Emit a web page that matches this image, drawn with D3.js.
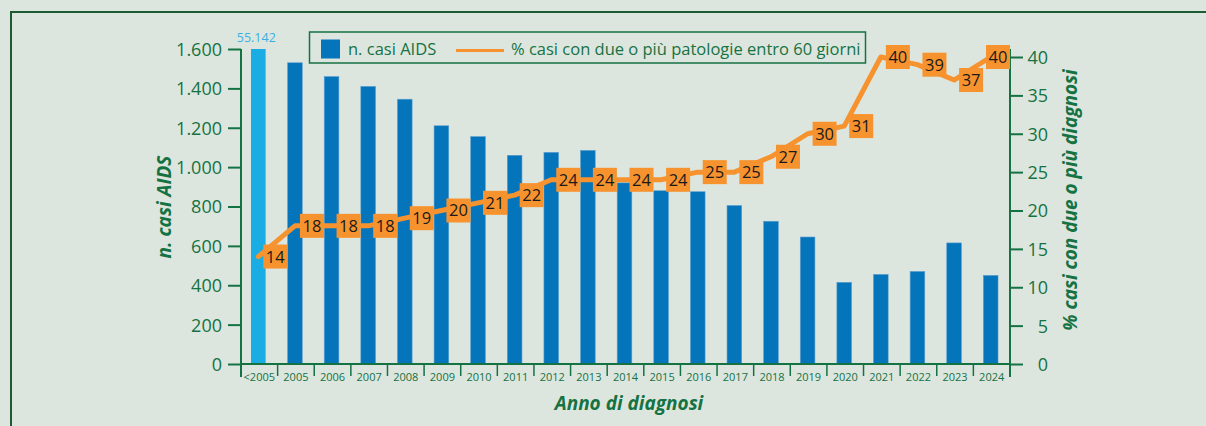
<!DOCTYPE html>
<html>
<head>
<meta charset="utf-8">
<script src="https://cdn.jsdelivr.net/npm/d3@7"></script>
<style>
  body { margin: 0; background: #dde6de; }
  svg { display: block; font-family: "Open Sans", sans-serif; }
</style>
</head>
<body>
<div id="container"></div>
<script>
// Data
var years = ["<2005", "2005", "2006", "2007", "2008", "2009", "2010", "2011", "2012", "2013",
             "2014", "2015", "2016", "2017", "2018", "2019", "2020", "2021", "2022", "2023", "2024"];
var casiAids = [55142, 1530, 1460, 1410, 1345, 1210, 1155, 1060, 1075, 1085,
                920, 880, 875, 805, 725, 645, 415, 455, 470, 615, 450];
var pctDuePatologie = [14, 18, 18, 18, 19, 20, 21, 22, 24, 24,
                       24, 24, 25, 25, 27, 30, 31, 40, 39, 37, 40];
var leftTicks = [0, 200, 400, 600, 800, 1000, 1200, 1400, 1600];
var rightTicks = [0, 5, 10, 15, 20, 25, 30, 35, 40];

var green = "#157243";
var orange = "#f7932f";

var W = 1206, H = 426;
var plotL = 241, plotR = 1010, plotT = 49, plotB = 364;

var it = d3.formatLocale({decimal: ",", thousands: ".", grouping: [3], currency: ["", ""]});
var fmt = it.format(",");

var svg = d3.select("#container").append("svg")
    .attr("width", W)
    .attr("height", H);

svg.append("rect").attr("width", W).attr("height", H).attr("fill", "#dde6de");

// frame
svg.append("path")
    .attr("d", "M11," + H + "V12H" + W)
    .attr("fill", "none")
    .attr("stroke", "#1e5b33")
    .attr("stroke-width", 2);

// scales
var x = d3.scaleBand().domain(years).range([plotL, plotR]).padding(0);
var y = d3.scaleLinear().domain([0, 1600]).range([plotB, plotT]).clamp(true);
var y2 = d3.scaleLinear().domain([0, 40]).range([plotB, 57]);

var barW = x.bandwidth() * 0.4;

// bars
svg.selectAll("rect.bar")
    .data(casiAids)
    .enter()
    .append("rect")
    .attr("class", "bar")
    .attr("x", function(d, i) { return x(years[i]) + x.bandwidth() / 2 - barW / 2 - 1; })
    .attr("y", function(d) { return y(d); })
    .attr("width", barW)
    .attr("height", function(d) { return plotB - y(d); })
    .attr("fill", function(d, i) { return i == 0 ? "#1aade3" : "#0474bb"; })
    .attr("stroke", function(d, i) { return i == 0 ? "none" : "#5a9fd0"; })
    .attr("stroke-width", 0.6);

// label of the truncated bar
svg.append("text")
    .attr("x", x(years[0]) + x.bandwidth() / 2 - 3)
    .attr("y", plotT - 7)
    .attr("text-anchor", "middle")
    .attr("font-size", 12.5)
    .attr("fill", "#3bb0e3")
    .text(fmt(casiAids[0]));

// left axis
var gl = svg.append("g")
    .attr("transform", "translate(" + plotL + ",0)")
    .call(d3.axisLeft(y).tickValues(leftTicks).tickFormat(fmt).tickSize(13).tickPadding(6));
gl.select(".domain").remove();
gl.append("line").attr("y1", plotT).attr("y2", plotB + 13);
gl.selectAll("line").attr("stroke", green).attr("stroke-width", 2);
gl.selectAll("text").attr("fill", green).attr("font-size", 18).attr("font-family", "Open Sans").attr("dy", "0.36em");

// right axis
var gr = svg.append("g")
    .attr("transform", "translate(" + plotR + ",0)")
    .call(d3.axisRight(y2).tickValues(rightTicks).tickSize(13).tickPadding(3));
gr.select(".domain").remove();
gr.append("line").attr("y1", plotT).attr("y2", plotB + 13);
gr.selectAll("line").attr("stroke", green).attr("stroke-width", 2);
gr.selectAll("text")
    .attr("fill", green).attr("font-size", 18).attr("font-family", "Open Sans")
    .attr("dy", "0.36em")
    .attr("text-anchor", "end")
    .attr("x", 38);

// bottom axis
var gb = svg.append("g").attr("transform", "translate(0," + plotB + ")");
gb.append("line").attr("x1", plotL).attr("x2", plotR).attr("stroke", green).attr("stroke-width", 2);
gb.selectAll("line.sep")
    .data(years)
    .enter()
    .append("line")
    .attr("class", "sep")
    .attr("x1", function(d) { return x(d); })
    .attr("x2", function(d) { return x(d); })
    .attr("y1", 0)
    .attr("y2", 12)
    .attr("stroke", green)
    .attr("stroke-width", 1.5);
gb.selectAll("text")
    .data(years)
    .enter()
    .append("text")
    .attr("x", function(d) { return x(d) + x.bandwidth() / 2; })
    .attr("y", 17)
    .attr("text-anchor", "middle")
    .attr("font-size", 11)
    .attr("fill", green)
    .text(function(d) { return d; });

// axis titles
svg.append("text")
    .attr("transform", "translate(171,207) rotate(-90)")
    .attr("text-anchor", "middle")
    .attr("font-size", 19)
    .attr("font-weight", "bold")
    .attr("font-style", "italic")
    .attr("fill", green)
    .text("n. casi AIDS");

svg.append("text")
    .attr("transform", "translate(1077,200) rotate(-90)")
    .attr("text-anchor", "middle")
    .attr("font-size", 19)
    .attr("font-weight", "bold")
    .attr("font-style", "italic")
    .attr("fill", green)
    .text("% casi con due o più diagnosi");

svg.append("text")
    .attr("x", 629)
    .attr("y", 410)
    .attr("text-anchor", "middle")
    .attr("font-size", 19)
    .attr("font-weight", "bold")
    .attr("font-style", "italic")
    .attr("fill", green)
    .text("Anno di diagnosi");

// line
var line = d3.line()
    .x(function(d, i) { return x(years[i]) + x.bandwidth() / 2 - 1; })
    .y(function(d) { return y2(d); });

svg.append("path")
    .datum(pctDuePatologie)
    .attr("d", line)
    .attr("fill", "none")
    .attr("stroke", orange)
    .attr("stroke-width", 5)
    .attr("stroke-linejoin", "round")
    .attr("stroke-linecap", "round");

// value boxes
var boxes = svg.selectAll("g.lab")
    .data(pctDuePatologie)
    .enter()
    .append("g")
    .attr("class", "lab")
    .attr("transform", function(d, i) {
        var cx = x(years[i]) + x.bandwidth() / 2 + 16;
        cx = Math.min(cx, plotR - 12);
        return "translate(" + cx + "," + y2(d) + ")";
    });
boxes.append("rect")
    .attr("x", -12).attr("y", -12)
    .attr("width", 24).attr("height", 24)
    .attr("fill", orange);
boxes.append("text")
    .attr("text-anchor", "middle")
    .attr("dy", "0.36em")
    .attr("font-size", 16.5)
    .attr("fill", "#1a1a1a")
    .text(function(d) { return d; });

// legend
var lg = svg.append("g");
lg.append("rect")
    .attr("x", 309.5).attr("y", 32)
    .attr("width", 556).attr("height", 31)
    .attr("fill", "none")
    .attr("stroke", green)
    .attr("stroke-width", 1.5);
lg.append("rect")
    .attr("x", 321).attr("y", 39.5)
    .attr("width", 19).attr("height", 19)
    .attr("fill", "#0474bb");
lg.append("text")
    .attr("x", 348).attr("y", 49)
    .attr("dy", "0.36em")
    .attr("font-size", 16.5)
    .attr("fill", green)
    .text("n. casi AIDS");
lg.append("line")
    .attr("x1", 456).attr("x2", 504)
    .attr("y1", 50.5).attr("y2", 50.5)
    .attr("stroke", orange)
    .attr("stroke-width", 3);
lg.append("text")
    .attr("x", 511).attr("y", 49)
    .attr("dy", "0.36em")
    .attr("font-size", 16.5)
    .attr("fill", green)
    .text("% casi con due o più patologie entro 60 giorni");
</script>
</body>
</html>
